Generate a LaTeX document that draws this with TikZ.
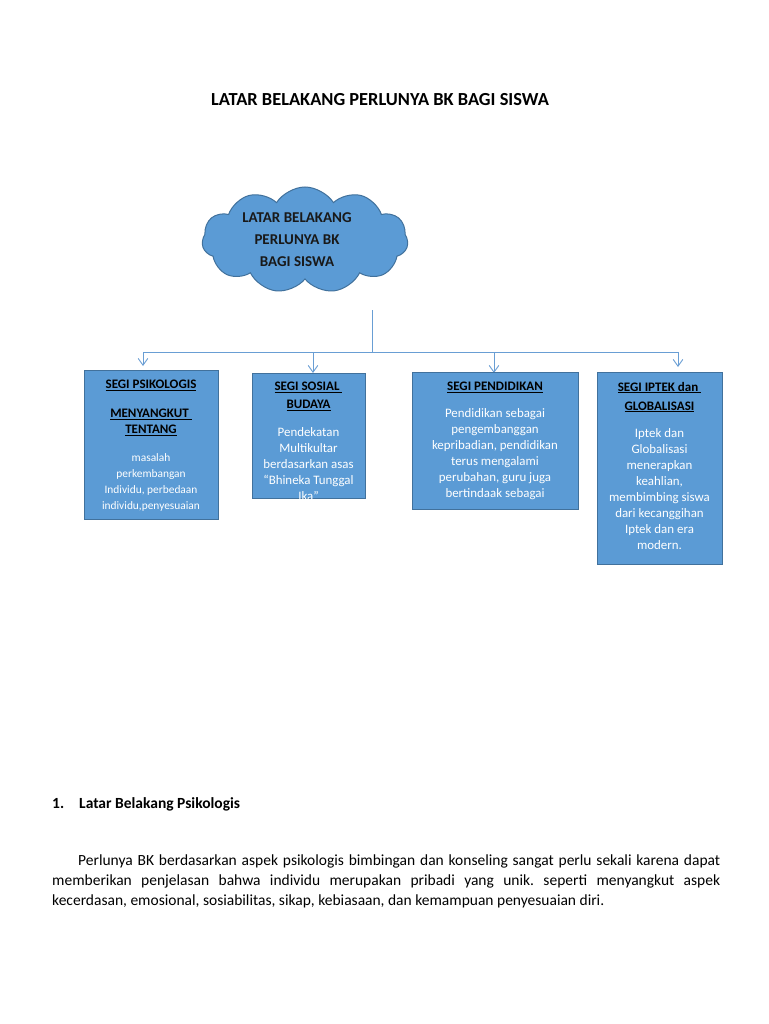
\documentclass[tikz,border=0pt]{standalone}
\usepackage{fontspec}
\setmainfont{Carlito}
\usetikzlibrary{arrows.meta, positioning, shapes.symbols}
\definecolor{segfill}{RGB}{91,155,213}
\definecolor{segline}{RGB}{65,113,156}
\definecolor{conline}{RGB}{105,158,212}
\newcommand{\seghead}[1]{{\color{black}\fontsize{13}{16}\selectfont\textbf{\underline{#1}}}}
\frenchspacing

\begin{document}
\begin{tikzpicture}[
  x=1pt, y=-1pt,
  seg/.style={draw=segline, fill=segfill, line width=1pt, inner sep=0pt},
  segtxt/.style={align=center, inner sep=0pt, anchor=north, text=white, font=\fontsize{12.9}{16}\selectfont},
  cloudbox/.style={cloud, cloud puffs=11, cloud puff arc=115, aspect=1.9, draw=segline, fill=segfill, line width=1pt, minimum width=206pt, minimum height=106pt, inner sep=0pt},
  bus/.style={draw=conline, line width=0.9pt},
  arr/.style={-{Straight Barb[length=2.4mm, width=3.4mm]}, draw=conline, line width=0.9pt},
  body/.style={inner sep=0pt, font=\fontsize{15.5}{20}\selectfont},
]
\fill[white] (0,0) rectangle (768,1024);
\useasboundingbox (0,0) rectangle (768,1024);

% ---- title and cloud
\node[anchor=base, inner sep=0pt, font=\fontsize{18.4}{22}\selectfont\bfseries] (title) at (380,106) {LATAR BELAKANG PERLUNYA BK BAGI SISWA};
\node[cloudbox] (cloud) at (305,240) {};
\node[align=center, inner sep=0pt, text=black!90, font=\fontsize{15}{22}\selectfont\bfseries] (cloudtxt) at (297,240) {LATAR BELAKANG\\PERLUNYA BK\\BAGI SISWA};

% ---- connectors
\coordinate (stem) at (372,310);
\coordinate (fork) at (372,352);
\coordinate (bl) at (143,352);
\coordinate (br) at (678,352);
\coordinate (t1) at (143,366);
\coordinate (t2) at (313,373);
\coordinate (t3) at (494,373);
\coordinate (t4) at (678,367);
\draw[bus] (stem) -- (fork);
\draw[bus] (bl) -- (br);
\draw[arr] (bl) -- (t1);
\draw[arr] (bl -| t2) -- (t2);
\draw[arr] (bl -| t3) -- (t3);
\draw[arr] (br) -- (t4);

% ---- boxes
\node[seg, minimum width=134pt, minimum height=149pt] (psi) at (151,444.5) {};
\node[seg, minimum width=113pt, minimum height=125pt] (sos) at (308.5,435.5) {};
\node[seg, minimum width=166pt, minimum height=137pt] (pend) at (495,440.5) {};
\node[seg, minimum width=125pt, minimum height=192pt] (ipt) at (659.5,468) {};

\begin{scope}
\clip (psi.south west) rectangle (psi.north east);
\node[segtxt] (psitxt) at (151,379.8) {\seghead{SEGI PSIKOLOGIS}\\[13pt]\seghead{MENYANGKUT\ }\\\seghead{TENTANG}\\[12pt]{\fontsize{11.4}{16}\selectfont masalah}\\{\fontsize{11.4}{16}\selectfont perkembangan}\\{\fontsize{11.4}{16}\selectfont Individu, perbedaan}\\{\fontsize{11.4}{16}\selectfont individu,penyesuaian}};
\end{scope}
\begin{scope}
\clip (sos.south west) rectangle (sos.north east);
\node[segtxt] (sostxt) at (308.5,381.8) {\seghead{SEGI SOSIAL\ }\\[2pt]\seghead{BUDAYA}\\[12pt]Pendekatan\\Multikultar\\berdasarkan asas\\``Bhineka Tunggal\\Ika''};
\end{scope}
\begin{scope}
\clip (pend.south west) rectangle (pend.north east);
\node[segtxt] (pendtxt) at (495,381.8) {\seghead{SEGI PENDIDIKAN}\\[11pt]Pendidikan sebagai\\pengembanggan\\kepribadian, pendidikan\\terus mengalami\\perubahan, guru juga\\bertindaak sebagai};
\end{scope}
\begin{scope}
\clip (ipt.south west) rectangle (ipt.north east);
\node[segtxt] (ipttxt) at (659.5,381.8) {\seghead{SEGI IPTEK dan\ }\\[3pt]\seghead{GLOBALISASI}\\[11pt]Iptek dan\\Globalisasi\\menerapkan\\keahlian,\\membimbing siswa\\dari kecanggihan\\Iptek dan era\\modern.};
\end{scope}

% ---- text below
\node[body, anchor=base west, font=\fontsize{15.5}{20}\selectfont\bfseries] (sec) at (52,808) {\makebox[27pt][l]{1.}Latar Belakang Psikologis};
\node[body, anchor=north west, text width=668pt, align=justify] (para) at (52,855) {\hspace*{26pt}Perlunya BK berdasarkan aspek psikologis bimbingan dan konseling sangat perlu sekali karena dapat\linebreak memberikan penjelasan bahwa individu merupakan pribadi yang unik. seperti menyangkut aspek\linebreak kecerdasan, emosional, sosiabilitas, sikap, kebiasaan, dan kemampuan penyesuaian diri.};
\end{tikzpicture}
\end{document}
